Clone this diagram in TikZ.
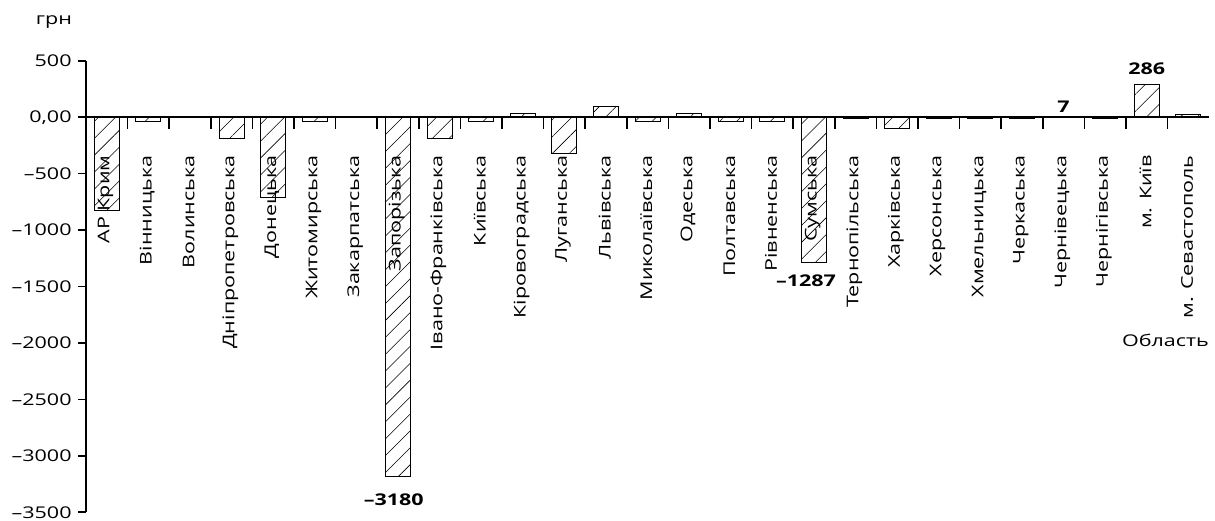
\documentclass[tikz,border=0pt]{standalone}
\usepackage{fontspec}
\setmainfont[FakeStretch=1.33]{Open Sans}
\usetikzlibrary{patterns.meta}

\tikzset{
  txt/.style={font=\fontsize{11.5}{13}\selectfont, inner sep=0pt},
  val/.style={font=\fontsize{11.5}{13}\selectfont\bfseries, inner sep=0pt},
  bar/.style={draw, line width=0.6pt, pattern={Lines[angle=45,distance=8.5pt,line width=0.4pt]}},
  axis/.style={line width=1.2pt},
}

\begin{document}
\begin{tikzpicture}[x=1.04cm, y=0.002817cm]
\useasboundingbox (-2.067,1038) rectangle (27.14,-3568);
% bars
\foreach \v [count=\i] in {-830,-40,0,-190,-710,-40,0,-3180,-190,-40,30,-320,95,-40,30,-40,-40,-1287,-15,-100,-15,-15,-15,7,-15,286,25}
  {\ifnum\v=0\else\draw[bar] (\i-0.8,0) rectangle (\i-0.2,\v);\fi}
% axes
\draw[axis] (0,0) -- (27,0);
\foreach \i in {1,...,26} \draw[axis] (\i,0) -- (\i,-104);
\draw[axis] (0,500) -- (0,-3500);
\foreach \y/\lab [count=\k] in {500/500,0/{0,00},-500/–500,-1000/–1000,-1500/–1500,-2000/–2000,-2500/–2500,-3000/–3000,-3500/–3500}
  {\draw[axis] (0,\y) -- (-0.19,\y);
   \node[txt, anchor=east] (tick\k) at (-0.34,\y) {\lab};}
\node[txt] (unit) at (-0.77,843) {грн};
\node[txt, anchor=east] (area) at (27,-1979) {Область};
% region names
\foreach \name [count=\i] in {АР Крим,Вінницька,Волинська,Дніпропетровська,Донецька,Житомирська,Закарпатська,Запорізька,Івано-Франківська,Київська,Кіровоградська,Луганська,Львівська,Миколаївська,Одеська,Полтавська,Рівненська,Сумська,Тернопільська,Харківська,Херсонська,Хмельницька,Черкаська,Чернівецька,Чернігівська,м. Київ,м. Севастополь}
  \node[rotate=90, txt, anchor=east] (reg\i) at (\i-0.53,-337) {\name};
% values
\node[val] (v8) at (7.40,-3386) {–3180};
\node[val] (v18) at (17.31,-1451) {–1287};
\node[val] (v24) at (23.5,92) {7};
\node[val] (v26) at (25.5,426) {286};
\end{tikzpicture}
\end{document}
